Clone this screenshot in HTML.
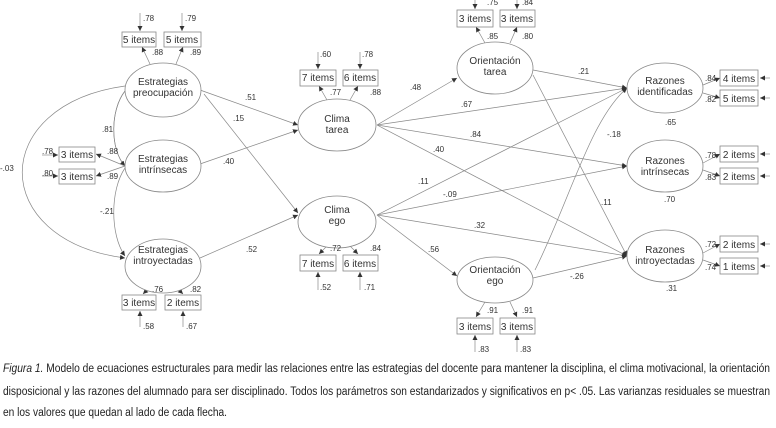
<!DOCTYPE html><html><head><meta charset="utf-8"><style>
body{margin:0;background:#fff;width:776px;height:428px;overflow:hidden}
svg{display:block}
text{font-family:"Liberation Sans",sans-serif;fill:#333}
.e{fill:#fff;stroke:#888;stroke-width:0.8}
.b{fill:#fff;stroke:#888;stroke-width:0.8}
.l{stroke:#888;stroke-width:0.7;fill:none}
.n{font-size:8px}
.t{font-size:10px;text-anchor:middle}
.bt{font-size:10px;text-anchor:middle}
.c{font-size:11.5px;fill:#222}
</style></head><body>
<svg width="776" height="428" viewBox="0 0 776 428">
<defs><marker id="a" markerWidth="6" markerHeight="6" refX="5" refY="3" orient="auto" markerUnits="userSpaceOnUse"><path d="M0,0.5 L5,3 L0,5.5z" fill="#333"/></marker></defs>
<g class="l" marker-end="url(#a)">
<path d="M200,90 L298,125"/><path d="M204,94 L298,213"/><path d="M200,164 L298,130"/><path d="M200,258 L298,215"/>
<path d="M125,86 C-12,105 -12,240 125,258"/>
<path d="M125,91 C110,110 110,150 125,166"/><path d="M125,91 C110,110 110,150 125,166" marker-end="" marker-start="url(#a)"/>
<path d="M125,168 C110,190 110,235 125,256"/>
<path d="M377,125 L457,78"/><path d="M377,125 L627,88"/><path d="M377,125 L627,166"/><path d="M377,125 L627,256"/>
<path d="M377,215 L627,88"/><path d="M377,215 L627,166"/><path d="M377,215 L627,256"/><path d="M377,215 L457,276"/>
<path d="M533,70 L627,88"/><path d="M533,75 L627,256"/>
<path d="M535,270 C570,200 590,120 627,88"/><path d="M533,278 L627,256"/>
<path d="M150,64 L142,47"/><path d="M176,64 L183,47"/>
<path d="M125,166 L96,154"/><path d="M125,166 L96,176"/>
<path d="M150,287 L143,294"/><path d="M176,287 L183,294"/>
<path d="M327,100 L319,86"/><path d="M350,100 L358,86"/>
<path d="M327,246 L319,254"/><path d="M350,246 L358,254"/>
<path d="M485,43 L476,27"/><path d="M510,43 L517,27"/>
<path d="M485,302 L476,317"/><path d="M510,302 L517,317"/>
<path d="M703,85 L720,78"/><path d="M703,93 L720,98"/>
<path d="M703,163 L720,154"/><path d="M703,170 L720,176"/>
<path d="M703,253 L720,244"/><path d="M703,260 L720,266"/>
<path d="M140,13 L140,31"/><path d="M182,13 L182,31"/>
<path d="M42,155 L58,155"/><path d="M42,176 L58,176"/>
<path d="M140,327 L140,311"/><path d="M183,327 L183,311"/>
<path d="M318,52 L318,69"/><path d="M360,52 L360,69"/>
<path d="M318,290 L318,272"/><path d="M360,290 L360,272"/>
<path d="M475,0 L475,9"/><path d="M517,0 L517,9"/>
<path d="M475,352 L475,335"/><path d="M517,352 L517,335"/>
<path d="M770,78 L760,78"/><path d="M770,98 L760,98"/><path d="M770,154 L760,154"/><path d="M770,176 L760,176"/><path d="M770,244 L760,244"/><path d="M770,266 L760,266"/>
</g>
<ellipse class="e" cx="163" cy="90" rx="38" ry="27"/><ellipse class="e" cx="163" cy="166" rx="38" ry="26"/><ellipse class="e" cx="163" cy="266" rx="38" ry="27"/>
<ellipse class="e" cx="337" cy="125" rx="39" ry="26"/><ellipse class="e" cx="337" cy="222" rx="39" ry="26"/>
<ellipse class="e" cx="495" cy="68" rx="38" ry="26"/><ellipse class="e" cx="495" cy="280" rx="38" ry="23"/>
<ellipse class="e" cx="665" cy="88" rx="38" ry="25"/><ellipse class="e" cx="665" cy="166" rx="38" ry="26"/><ellipse class="e" cx="665" cy="256" rx="38" ry="26"/>
<g class="t">
<text x="163" y="85">Estrategias</text><text x="163" y="96">preocupación</text>
<text x="163" y="162">Estrategias</text><text x="163" y="173">intrínsecas</text>
<text x="163" y="253">Estrategias</text><text x="163" y="264">introyectadas</text>
<text x="337" y="122">Clima</text><text x="337" y="133">tarea</text>
<text x="337" y="213">Clima</text><text x="337" y="224">ego</text>
<text x="495" y="64">Orientación</text><text x="495" y="75">tarea</text>
<text x="495" y="273">Orientación</text><text x="495" y="284">ego</text>
<text x="665" y="84">Razones</text><text x="665" y="95">identificadas</text>
<text x="665" y="164">Razones</text><text x="665" y="175">intrínsecas</text>
<text x="665" y="253">Razones</text><text x="665" y="264">introyectadas</text>
</g>
<g class="b">
<rect x="122" y="32" width="34" height="15"/><rect x="164" y="32" width="37" height="15"/>
<rect x="59" y="147" width="36" height="15"/><rect x="59" y="169" width="36" height="15"/>
<rect x="122" y="295" width="34" height="15"/><rect x="165" y="295" width="36" height="15"/>
<rect x="300" y="70" width="36" height="16"/><rect x="343" y="70" width="35" height="16"/>
<rect x="300" y="255" width="36" height="16"/><rect x="343" y="255" width="35" height="16"/>
<rect x="457" y="10" width="36" height="17"/><rect x="500" y="10" width="35" height="17"/>
<rect x="457" y="318" width="36" height="16"/><rect x="500" y="318" width="35" height="16"/>
<rect x="720" y="70" width="38" height="16"/><rect x="720" y="90" width="38" height="16"/>
<rect x="720" y="146" width="38" height="16"/><rect x="720" y="168" width="38" height="16"/>
<rect x="720" y="236" width="38" height="16"/><rect x="720" y="258" width="38" height="16"/>
</g>
<g class="bt">
<text x="139" y="43">5 items</text><text x="182" y="43">5 items</text>
<text x="77" y="158">3 items</text><text x="77" y="180">3 items</text>
<text x="139" y="306">3 items</text><text x="183" y="306">2 items</text>
<text x="318" y="81">7 items</text><text x="360" y="81">6 items</text>
<text x="318" y="267">7 items</text><text x="360" y="267">6 items</text>
<text x="475" y="22">3 items</text><text x="517" y="22">3 items</text>
<text x="475" y="330">3 items</text><text x="517" y="330">3 items</text>
<text x="739" y="82">4 items</text><text x="739" y="102">5 items</text>
<text x="739" y="158">2 items</text><text x="739" y="180">2 items</text>
<text x="739" y="248">2 items</text><text x="739" y="270">1 items</text>
</g>
<g class="n">
<text x="143" y="21">.78</text><text x="185" y="21">.79</text>
<text x="152" y="55">.88</text><text x="190" y="55">.89</text>
<text x="42" y="154">.78</text><text x="42" y="176">.80</text>
<text x="107" y="154">.88</text><text x="107" y="179">.89</text>
<text x="152" y="292">.76</text><text x="190" y="292">.82</text>
<text x="143" y="329">.58</text><text x="186" y="329">.67</text>
<text x="320" y="57">.60</text><text x="362" y="57">.78</text>
<text x="330" y="95">.77</text><text x="370" y="95">.88</text>
<text x="330" y="251">.72</text><text x="370" y="251">.84</text>
<text x="320" y="290">.52</text><text x="364" y="290">.71</text>
<text x="487" y="5">.75</text><text x="522" y="5">.84</text>
<text x="487" y="39">.85</text><text x="522" y="39">.80</text>
<text x="487" y="313">.91</text><text x="522" y="313">.91</text>
<text x="478" y="352">.83</text><text x="520" y="352">.83</text>
<text x="705" y="81">.84</text><text x="705" y="102">.82</text>
<text x="705" y="158">.78</text><text x="705" y="180">.83</text>
<text x="705" y="247">.72</text><text x="705" y="270">.74</text>
<text x="0" y="171">-.03</text><text x="102" y="132">.81</text><text x="100" y="214">-.21</text>
<text x="245" y="100">.51</text><text x="233" y="121">.15</text><text x="223" y="164">.40</text><text x="246" y="252">.52</text>
<text x="410" y="90">.48</text><text x="461" y="107">.67</text><text x="470" y="137">.84</text><text x="433" y="152">.40</text>
<text x="418" y="184">.11</text><text x="443" y="197">-.09</text><text x="474" y="228">.32</text><text x="428" y="252">.56</text>
<text x="578" y="74">.21</text><text x="607" y="137">-.18</text><text x="601" y="205">.11</text><text x="570" y="279">-.26</text>
<text x="665" y="125">.65</text><text x="664" y="202">.70</text><text x="666" y="291">.31</text>
</g>
<text class="c" x="3" y="372" textLength="767" lengthAdjust="spacingAndGlyphs"><tspan font-style="italic">Figura 1.</tspan> Modelo de ecuaciones estructurales para medir las relaciones entre las estrategias del docente para mantener la disciplina, el clima motivacional, la orientación</text>
<text class="c" x="3" y="395" textLength="767" lengthAdjust="spacingAndGlyphs">disposicional y las razones del alumnado para ser disciplinado. Todos los parámetros son estandarizados y significativos en p&lt; .05. Las varianzas residuales se muestran</text>
<text class="c" x="3" y="416" textLength="224" lengthAdjust="spacingAndGlyphs">en los valores que quedan al lado de cada flecha.</text>
</svg>
</body></html>
